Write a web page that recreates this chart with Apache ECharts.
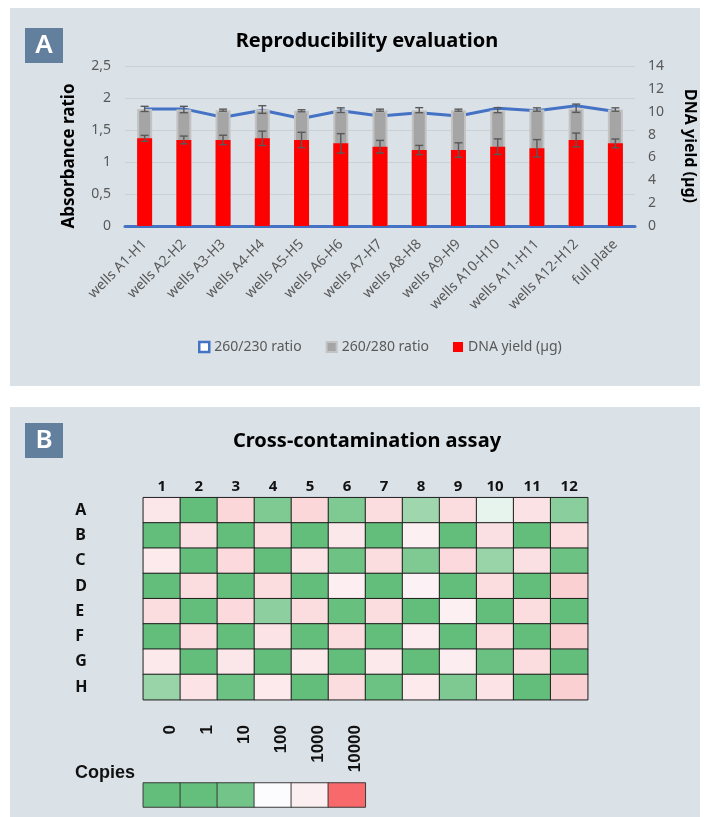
<!DOCTYPE html>
<html>
<head>
<meta charset="utf-8">
<script src="https://cdn.jsdelivr.net/npm/echarts@6/dist/echarts.min.js"></script>
<style>
  html, body { margin: 0; padding: 0; background: #ffffff; }
  #chart { width: 710px; height: 817px; }
</style>
</head>
<body>
<div id="chart"></div>
<script>
// ---- Panel A: reproducibility per plate column ----
const categories = ['wells A1-H1', 'wells A2-H2', 'wells A3-H3', 'wells A4-H4', 'wells A5-H5', 'wells A6-H6',
  'wells A7-H7', 'wells A8-H8', 'wells A9-H9', 'wells A10-H10', 'wells A11-H11', 'wells A12-H12', 'full plate'];
const ratio230 = [1.83, 1.83, 1.70, 1.81, 1.68, 1.80, 1.72, 1.77, 1.72, 1.84, 1.80, 1.88, 1.79];
const ratio280 = [1.83, 1.82, 1.81, 1.82, 1.80, 1.81, 1.81, 1.81, 1.81, 1.81, 1.82, 1.84, 1.82];
const ratio280Err = [0.04, 0.05, 0.016, 0.06, 0.016, 0.036, 0.016, 0.039, 0.016, 0.039, 0.026, 0.065, 0.026];
const dnaYield = [7.67, 7.53, 7.53, 7.67, 7.53, 7.23, 6.94, 6.65, 6.65, 6.94, 6.80, 7.53, 7.23];
const dnaYieldErr = [0.26, 0.34, 0.41, 0.63, 0.67, 0.85, 0.55, 0.40, 0.63, 0.68, 0.76, 0.60, 0.38];

// ---- Panel B: copies detected per well of the 96-well plate ----
const plateCols = ['1', '2', '3', '4', '5', '6', '7', '8', '9', '10', '11', '12'];
const plateRows = ['A', 'B', 'C', 'D', 'E', 'F', 'G', 'H'];
const rowA = [1500, 0, 2600, 18, 2600, 18, 2200, 39, 2200, 86, 1850, 26];
const rowB = [0, 2000, 0, 2200, 0, 1450, 0, 900, 0, 2000, 0, 2200];
const rowC = [1300, 0, 2450, 0, 1800, 7, 2200, 18, 2450, 35, 2000, 6];
const rowD = [0, 2200, 0, 2200, 0, 1050, 0, 770, 0, 2200, 0, 3050];
const rowE = [2200, 0, 2450, 28, 2200, 3, 2200, 0, 900, 0, 2200, 0];
const rowF = [0, 2200, 0, 1800, 0, 2200, 0, 1180, 0, 2200, 0, 3050];
const rowG = [1400, 0, 1600, 0, 1400, 0, 1400, 0, 1100, 5, 2200, 0];
const rowH = [35, 1800, 6, 1300, 0, 2200, 6, 1300, 17, 1800, 0, 3050];
const plateRowsData = [rowA, rowB, rowC, rowD, rowE, rowF, rowG, rowH];

// Colour key
const scaleLabels = ['0', '1', '10', '100', '1000', '10000'];
const scaleValues = [0, 1, 10, 100, 1000, 10000];

// Three-colour scale: green at 0, white at 100, red at 10000 (linear between)
const GREEN = [99, 190, 123], WHITE = [252, 252, 255], RED = [248, 105, 107];
function toHex(c) {
  return '#' + c.map(v => Math.round(v).toString(16).padStart(2, '0')).join('');
}
function mix(a, b, t) { return a.map((v, i) => v + (b[i] - v) * t); }
const rampColors = [toHex(GREEN)];
for (let k = 0; k < 100; k++) rampColors.push(toHex(mix(WHITE, RED, k / 99)));

const heatData = [];
plateRowsData.forEach((row, r) => row.forEach((v, c) => heatData.push([c, r, v])));
const keyData = scaleValues.map((v, i) => [i, 0, v]);

const FONT = 'Noto Sans';
const GREY_TXT = '#595959';

function errorBarItem(params, api) {
  const x = api.value(0), y = api.value(1), e = api.value(2);
  const hi = api.coord([x, y + e]);
  const lo = api.coord([x, y - e]);
  const cap = 4;
  const style = { stroke: '#595959', lineWidth: 1.4 };
  return {
    type: 'group',
    children: [
      { type: 'line', shape: { x1: hi[0], y1: hi[1], x2: lo[0], y2: lo[1] }, style },
      { type: 'line', shape: { x1: hi[0] - cap, y1: hi[1], x2: hi[0] + cap, y2: hi[1] }, style },
      { type: 'line', shape: { x1: lo[0] - cap, y1: lo[1], x2: lo[0] + cap, y2: lo[1] }, style }
    ]
  };
}

const chart = echarts.init(document.getElementById('chart'), null, { renderer: 'canvas' });

const panelBg = '#DAE1E7';
const badge = '#637F9E';

chart.setOption({
  animation: false,
  textStyle: { fontFamily: FONT },
  graphic: [
    { type: 'rect', shape: { x: 10, y: 8, width: 690, height: 378 }, style: { fill: panelBg }, z: -10 },
    { type: 'rect', shape: { x: 10, y: 407, width: 690, height: 410 }, style: { fill: panelBg }, z: -10 },
    { type: 'rect', shape: { x: 25, y: 28, width: 38, height: 35 }, style: { fill: badge }, z: -5 },
    { type: 'text', x: 44, y: 46, style: { text: 'A', fill: '#fff', font: '600 26px "Noto Sans"', align: 'center', verticalAlign: 'middle' }, z: -4 },
    { type: 'rect', shape: { x: 25, y: 423, width: 38, height: 35 }, style: { fill: badge }, z: -5 },
    { type: 'text', x: 44, y: 441, style: { text: 'B', fill: '#fff', font: '600 26px "Noto Sans"', align: 'center', verticalAlign: 'middle' }, z: -4 }
  ],
  title: [
    { text: 'Reproducibility evaluation', left: 362, top: 26, textAlign: 'center',
      textStyle: { fontFamily: FONT, fontWeight: 'bold', fontSize: 20, color: '#000' } },
    { text: 'Cross-contamination assay', left: 362, top: 426, textAlign: 'center',
      textStyle: { fontFamily: FONT, fontWeight: 'bold', fontSize: 20, color: '#000' } },
    { text: 'Copies', left: 70, top: 759,
      textStyle: { fontFamily: 'Liberation Sans', fontWeight: 'bold', fontSize: 18, color: '#111' } }
  ],
  legend: {
    left: 193, top: 335,
    itemWidth: 10, itemHeight: 10, itemGap: 24,
    textStyle: { color: GREY_TXT, fontSize: 14, fontFamily: FONT },
    data: [
      { name: '260/230 ratio', icon: 'rect', itemStyle: { color: '#ffffff', borderColor: '#4472C4', borderWidth: 2.5 } },
      { name: '260/280 ratio', icon: 'rect', itemStyle: { color: '#A5A5A5' } },
      { name: 'DNA yield (µg)', icon: 'rect', itemStyle: { color: '#FF0000' } }
    ]
  },
  visualMap: {
    type: 'continuous', show: false, min: 0, max: 10000,
    seriesIndex: [5, 6], inRange: { color: rampColors }
  },
  grid: [
    { left: 125, top: 66, width: 510, height: 160 },
    { left: 143.3, top: 497.7, width: 444.4, height: 202 },
    { left: 143.3, top: 783, width: 222, height: 24 },
    { left: 143.3, top: 700, width: 222, height: 24 }
  ],
  xAxis: [
    { type: 'category', gridIndex: 0, data: categories,
      axisLine: { lineStyle: { color: '#4472C4', width: 3 } },
      axisTick: { show: false },
      axisLabel: { interval: 0, rotate: 45, color: GREY_TXT, fontSize: 14, margin: 16, fontFamily: FONT } },
    { type: 'category', gridIndex: 1, data: plateCols, position: 'top',
      axisLine: { show: false }, axisTick: { show: false },
      axisLabel: { color: '#111', fontSize: 15, fontWeight: 'bold', margin: 3, fontFamily: FONT } },
    { type: 'category', gridIndex: 2, data: scaleLabels,
      axisLine: { show: false }, axisTick: { show: false }, axisLabel: { show: false } },
    { type: 'category', gridIndex: 3, data: scaleLabels, position: 'bottom',
      axisLine: { show: false }, axisTick: { show: false },
      axisLabel: { rotate: 90, margin: 1, color: '#111', fontSize: 17, fontWeight: 'bold',
        fontFamily: 'Liberation Sans', verticalAlign: 'top' } }
  ],
  yAxis: [
    { type: 'value', gridIndex: 0, min: 0, max: 2.5, interval: 0.5,
      axisLine: { show: false }, axisTick: { show: false },
      splitLine: { lineStyle: { color: '#CBD0D5', width: 1 } },
      axisLabel: { color: GREY_TXT, fontSize: 14, margin: 14, fontFamily: FONT,
        formatter: v => String(v).replace('.', ',') },
      name: 'Absorbance ratio', nameLocation: 'middle', nameGap: 47,
      nameTextStyle: { color: '#000', fontWeight: 'bold', fontSize: 17, fontFamily: FONT, padding: [0, 20, 0, 0] } },
    { type: 'value', gridIndex: 0, position: 'right', min: 0, max: 14, interval: 2,
      axisLine: { show: false }, axisTick: { show: false }, splitLine: { show: false },
      axisLabel: { color: GREY_TXT, fontSize: 14, margin: 13, fontFamily: FONT },
      name: 'DNA yield (µg)', nameLocation: 'middle', nameGap: 47, nameRotate: -90,
      nameTextStyle: { color: '#000', fontWeight: 'bold', fontSize: 16, fontFamily: FONT } },
    { type: 'category', gridIndex: 1, data: plateRows, inverse: true,
      axisLine: { show: false }, axisTick: { show: false },
      axisLabel: { color: '#111', fontSize: 16, fontWeight: 'bold', align: 'left', margin: 68, fontFamily: FONT } },
    { type: 'category', gridIndex: 2, data: [''],
      axisLine: { show: false }, axisTick: { show: false }, axisLabel: { show: false } },
    { type: 'value', gridIndex: 3, show: false }
  ],
  series: [
    { name: '260/230 ratio', type: 'line', xAxisIndex: 0, yAxisIndex: 0, data: ratio230,
      showSymbol: false, symbol: 'none', z: 1,
      lineStyle: { color: '#4472C4', width: 3 }, itemStyle: { color: '#4472C4' } },
    { name: '260/280 ratio', type: 'bar', xAxisIndex: 0, yAxisIndex: 0, data: ratio280,
      barWidth: 15, barGap: '-100%', z: 2,
      itemStyle: { color: '#A5A5A5', borderColor: '#C3C3C3', borderWidth: 2 } },
    { name: 'DNA yield (µg)', type: 'bar', xAxisIndex: 0, yAxisIndex: 1, data: dnaYield,
      barWidth: 15, barGap: '-100%', z: 3,
      itemStyle: { color: '#FF0000' } },
    { name: '260/280 ratio SD', type: 'custom', xAxisIndex: 0, yAxisIndex: 0, z: 5,
      renderItem: errorBarItem, encode: { x: 0, y: 1 },
      data: ratio280.map((v, i) => [i, v, ratio280Err[i]]) },
    { name: 'DNA yield SD', type: 'custom', xAxisIndex: 0, yAxisIndex: 1, z: 5,
      renderItem: errorBarItem, encode: { x: 0, y: 1 },
      data: dnaYield.map((v, i) => [i, v, dnaYieldErr[i]]) },
    { name: 'Copies per well', type: 'heatmap', xAxisIndex: 1, yAxisIndex: 2, data: heatData,
      itemStyle: { borderColor: '#1E1E1E', borderWidth: 1 }, emphasis: { disabled: true } },
    { name: 'Copies key', type: 'heatmap', xAxisIndex: 2, yAxisIndex: 3, data: keyData,
      itemStyle: { borderColor: '#3A3A3A', borderWidth: 1 }, emphasis: { disabled: true } }
  ]
});
</script>
</body>
</html>
